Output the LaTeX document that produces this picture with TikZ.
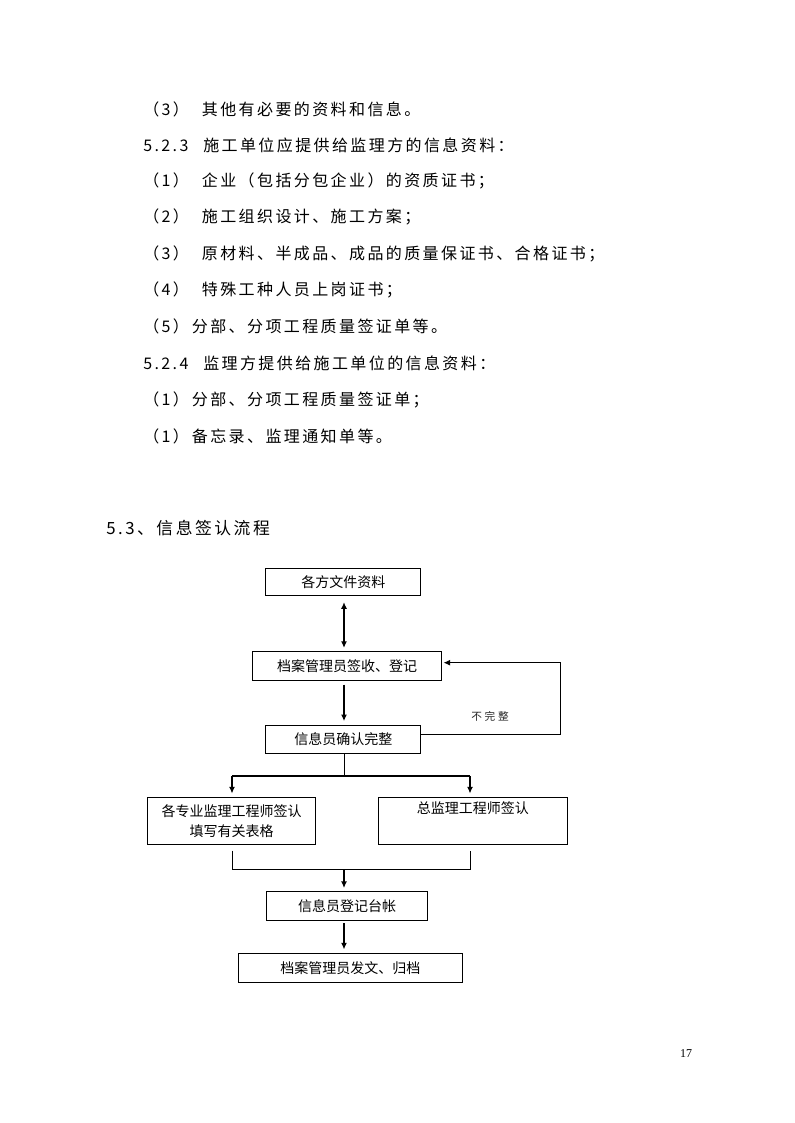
\documentclass[tikz,border=0pt]{standalone}
\usepackage{fontspec}
\setmainfont{Liberation Serif}
\newfontfamily\bodyfont[LetterSpace=15]{Noto Sans CJK SC}
\newfontfamily\flowfont{Noto Sans CJK SC}
\newfontfamily\notefont[LetterSpace=25]{Noto Sans CJK SC}
\usetikzlibrary{arrows.meta,calc}
\newcommand\itemno[1]{\makebox[36.5pt][l]{（#1）}}
\newcommand\secno[1]{\makebox[45pt][l]{#1}}

\begin{document}
\begin{tikzpicture}[x=0.75pt,y=-0.75pt]
\tikzstyle{every node}+=[inner sep=0pt]
\tikzstyle{para}=[anchor=west,font=\bodyfont\fontsize{12pt}{14pt}\selectfont]
\tikzstyle{box}=[draw,line width=0.75pt,align=center,font=\flowfont\fontsize{10.5pt}{15pt}\selectfont]
\tikzstyle{thin line}=[line width=0.75pt]
\tikzstyle{thick line}=[line width=1.5pt]
\tikzstyle{arr}=[-{Latex[length=5pt,width=4.5pt]}]
\useasboundingbox [fill=white] (0,0) rectangle (794,1123);
\node [para] (t1) at (143,109) {\itemno{3}\hspace{7.5pt}其他有必要的资料和信息。};
\node [para] (t2) at (143,145) {\secno{5.2.3}施工单位应提供给监理方的信息资料：};
\node [para] (t3) at (143,181) {\itemno{1}\hspace{7.5pt}企业（包括分包企业）的资质证书；};
\node [para] (t4) at (143,217) {\itemno{2}\hspace{7.5pt}施工组织设计、施工方案；};
\node [para] (t5) at (143,253.5) {\itemno{3}\hspace{7.5pt}原材料、半成品、成品的质量保证书、合格证书；};
\node [para] (t6) at (143,290) {\itemno{4}\hspace{7.5pt}特殊工种人员上岗证书；};
\node [para] (t7) at (143,326.5) {\itemno{5}分部、分项工程质量签证单等。};
\node [para] (t8) at (143,363) {\secno{5.2.4}监理方提供给施工单位的信息资料：};
\node [para] (t9) at (143,399.5) {\itemno{1}分部、分项工程质量签证单；};
\node [para] (t10) at (143,436) {\itemno{1}备忘录、监理通知单等。};
\node [para,font=\bodyfont\fontsize{12.6pt}{15pt}\selectfont] (head) at (106,528) {5.3、信息签认流程};
\node [box,minimum width=116pt,minimum height=20.8pt] (files) at (343.3,582) {各方文件资料};
\node [box,minimum width=142pt,minimum height=21.2pt] (receive) at (347,665.9) {档案管理员签收、登记};
\node [box,minimum width=116pt,minimum height=20.7pt] (check) at (343.3,739.5) {信息员确认完整};
\node [box,minimum width=126.3pt,minimum height=35pt] (spec) at (231.5,820.7) {各专业监理工程师签认\\填写有关表格};
\node [box,minimum width=141.8pt,minimum height=35pt] (chief) at (472.8,820.7) {总监理工程师签认\\\strut};
\node [box,minimum width=120.5pt,minimum height=21.2pt] (ledger) at (347,906) {信息员登记台帐};
\node [box,minimum width=168pt,minimum height=21.8pt] (archive) at (350.3,967.8) {档案管理员发文、归档};
\node [font=\notefont\fontsize{8pt}{10pt}\selectfont,text=black!85] (incomplete) at (490,716) {不完整};
\node [font=\fontsize{9pt}{11pt}\selectfont] (page) at (686,1054) {17};
\coordinate (spine) at (344,0);
\coordinate (splitL) at (232,776);
\coordinate (splitR) at (470,776);
\coordinate (joinL) at (232,869.3);
\coordinate (joinR) at (470,869.3);
\coordinate (fbLow) at (560.7,734);
\coordinate (fbHigh) at (560.7,662.7);
\draw [thick line,{Latex[length=5pt,width=4.5pt]}-{Latex[length=5pt,width=4.5pt]},shorten <=4.3pt,shorten >=2.5pt] (files.south -| spine) -- (receive.north -| spine);
\draw [thick line,arr,shorten <=3pt,shorten >=3pt] (receive.south -| spine) -- (check.north -| spine);
\draw [thin line,arr,shorten >=1pt] (check.east |- fbLow) -- (fbLow) -- (fbHigh) -- (receive.east |- fbHigh);
\draw [thin line] (check.south -| spine) -- (spine |- splitL);
\draw [thick line] (splitL) -- (splitR);
\draw [thick line,arr,shorten >=2.5pt] (splitL) -- (spec.north -| splitL);
\draw [thick line,arr,shorten >=2.5pt] (splitR) -- (chief.north -| splitR);
\draw [thin line,shorten <=4.5pt,shorten >=4.5pt] (spec.south -| joinL) -- (joinL) -- (joinR) -- (chief.south -| joinR);
\draw [thick line,arr,shorten >=2.5pt] (spine |- joinL) -- (ledger.north -| spine);
\draw [thick line,arr,shorten <=2pt,shorten >=2.5pt] (ledger.south -| spine) -- (archive.north -| spine);
\end{tikzpicture}
\end{document}
